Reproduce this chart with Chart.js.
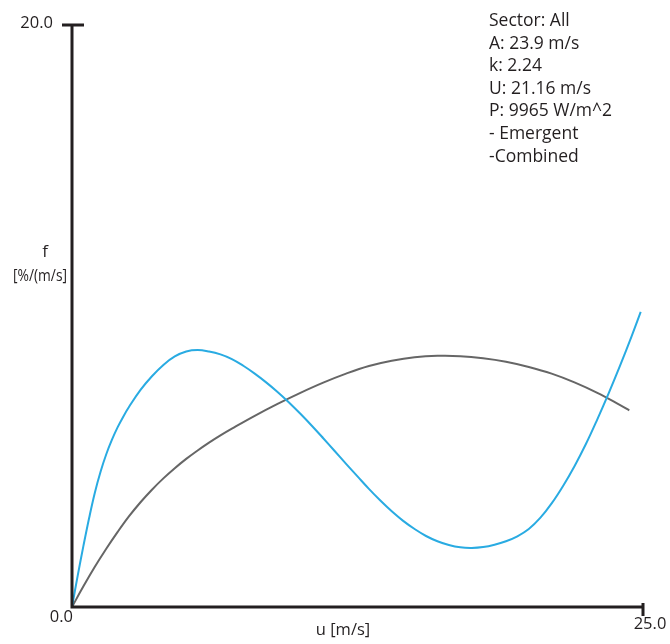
<!DOCTYPE html>
<html>
<head>
<meta charset="utf-8">
<script src="https://cdn.jsdelivr.net/npm/chart.js@4.4.1/dist/chart.umd.min.js"></script>
<style>
  html, body { margin: 0; padding: 0; background: #ffffff; }
  #wrap { width: 670px; height: 644px; }
</style>
</head>
<body>
<div id="wrap"><canvas id="c" width="670" height="644"></canvas></div>
<script>
// Wind speed (m/s) and frequency curves (f in %/(m/s))
const emergentU = [0, 0.25, 0.5, 0.75, 1, 1.25, 1.5, 1.75, 2, 2.25, 2.5, 3, 3.5, 4, 4.5, 5, 5.5, 6, 6.5, 7, 7.5, 8, 8.5, 9, 9.5, 10, 10.5, 11, 11.5, 12, 12.5, 13, 13.5, 14, 14.5, 15, 15.5, 16, 16.5, 17, 17.5, 18, 18.5, 19, 19.5, 20, 20.5, 21, 21.5, 22, 22.5, 23, 23.5, 24, 24.5, 24.9];
const emergentF = [0, 1.08, 2.1, 3.06, 3.93, 4.65, 5.25, 5.75, 6.18, 6.55, 6.88, 7.46, 7.93, 8.32, 8.61, 8.78, 8.83, 8.78, 8.68, 8.52, 8.29, 8.02, 7.72, 7.39, 7.03, 6.64, 6.23, 5.8, 5.36, 4.92, 4.49, 4.06, 3.66, 3.29, 2.96, 2.68, 2.44, 2.26, 2.13, 2.05, 2.03, 2.06, 2.14, 2.26, 2.43, 2.68, 3.06, 3.56, 4.16, 4.84, 5.6, 6.45, 7.35, 8.3, 9.3, 10.14];

const combinedU = [0, 0.5, 1, 1.5, 2, 2.5, 3, 3.5, 4, 4.5, 5, 5.5, 6, 6.5, 7, 8, 9, 10, 11, 12, 13, 14, 15, 16, 17, 18, 19, 20, 21, 22, 23, 24, 24.4];
const combinedF = [0, 0.71, 1.38, 2.0, 2.58, 3.12, 3.6, 4.03, 4.42, 4.77, 5.09, 5.38, 5.65, 5.9, 6.13, 6.57, 6.98, 7.36, 7.71, 8.02, 8.28, 8.46, 8.58, 8.63, 8.62, 8.55, 8.43, 8.25, 8.02, 7.72, 7.36, 6.94, 6.76];

const xRange = [0, 25];
const yRange = [0, 20];
const xTickLabels = ['0.0', '25.0'];
const yTickLabel = '20.0';
const xTitle = 'u [m/s]';
const yTitle = ['f', '[%/(m/s]'];
const infoLines = ['Sector: All', 'A: 23.9 m/s', 'k: 2.24', 'U: 21.16 m/s', 'P: 9965 W/m^2', '- Emergent', '-Combined'];

const FONT = '"Open Sans", "Noto Sans", sans-serif';
const AXIS = '#231f20';
const TEXT = '#231f20';

const toPoints = (xs, ys) => xs.map((x, i) => ({ x: x, y: ys[i] }));

// Axes, end ticks and all labels, placed from the chart's own scales
const axesPlugin = {
  id: 'axesPlugin',
  afterDatasetsDraw(chart) {
    const ctx = chart.ctx;
    const xs = chart.scales.x, ys = chart.scales.y;
    const x0 = xs.getPixelForValue(xRange[0]);
    const x1 = xs.getPixelForValue(xRange[1]);
    const y0 = ys.getPixelForValue(yRange[0]);
    const y1 = ys.getPixelForValue(yRange[1]);
    ctx.save();
    ctx.strokeStyle = AXIS;
    ctx.lineWidth = 3;
    ctx.lineCap = 'butt';
    ctx.beginPath();
    ctx.moveTo(x0, y1);
    ctx.lineTo(x0, y0 + 1.5);
    ctx.moveTo(x0 - 1.5, y0);
    ctx.lineTo(x1, y0);
    // top tick on the f axis
    ctx.moveTo(x0 - 10, y1);
    ctx.lineTo(x0 + 12, y1);
    // end tick on the u axis
    ctx.moveTo(x1, y0 - 4);
    ctx.lineTo(x1, y0 + 9);
    ctx.stroke();

    ctx.fillStyle = TEXT;
    ctx.textBaseline = 'middle';
    ctx.font = '16.5px ' + FONT;
    ctx.textAlign = 'right';
    ctx.fillText(yTickLabel, x0 - 19, y1 - 2);
    ctx.fillText(xTickLabels[0], x0 + 1, y0 + 10);
    ctx.textAlign = 'center';
    ctx.fillText(xTickLabels[1], x1 + 7, y0 + 17);
    ctx.fillText(xTitle, 343, y0 + 23);
    ctx.font = '17px ' + FONT;
    ctx.fillText(yTitle[0], 45, 252);
    // condensed unit label under the f
    ctx.font = '16px ' + FONT;
    const w = ctx.measureText(yTitle[1]).width;
    const sx = 54 / w;
    ctx.save();
    ctx.translate(40, 276);
    ctx.scale(sx, 1);
    ctx.fillText(yTitle[1], 0, 0);
    ctx.restore();

    ctx.font = '17.5px ' + FONT;
    ctx.textAlign = 'left';
    infoLines.forEach((t, i) => ctx.fillText(t, 489, 21 + i * 22.6));
    ctx.restore();
  }
};

new Chart(document.getElementById('c'), {
  type: 'line',
  data: {
    datasets: [
      {
        label: 'Emergent',
        data: toPoints(emergentU, emergentF),
        borderColor: '#29abe2',
        borderWidth: 2,
        pointRadius: 0,
        fill: false,
        tension: 0.4
      },
      {
        label: 'Combined',
        data: toPoints(combinedU, combinedF),
        borderColor: '#666666',
        borderWidth: 2,
        pointRadius: 0,
        fill: false,
        tension: 0.4
      }
    ]
  },
  options: {
    responsive: false,
    animation: false,
    layout: { padding: { left: 72, right: 27, top: 25, bottom: 37 } },
    plugins: { legend: { display: false }, tooltip: { enabled: false } },
    scales: {
      x: { type: 'linear', min: xRange[0], max: xRange[1], display: false },
      y: { type: 'linear', min: yRange[0], max: yRange[1], display: false }
    }
  },
  plugins: [axesPlugin]
});
</script>
</body>
</html>
